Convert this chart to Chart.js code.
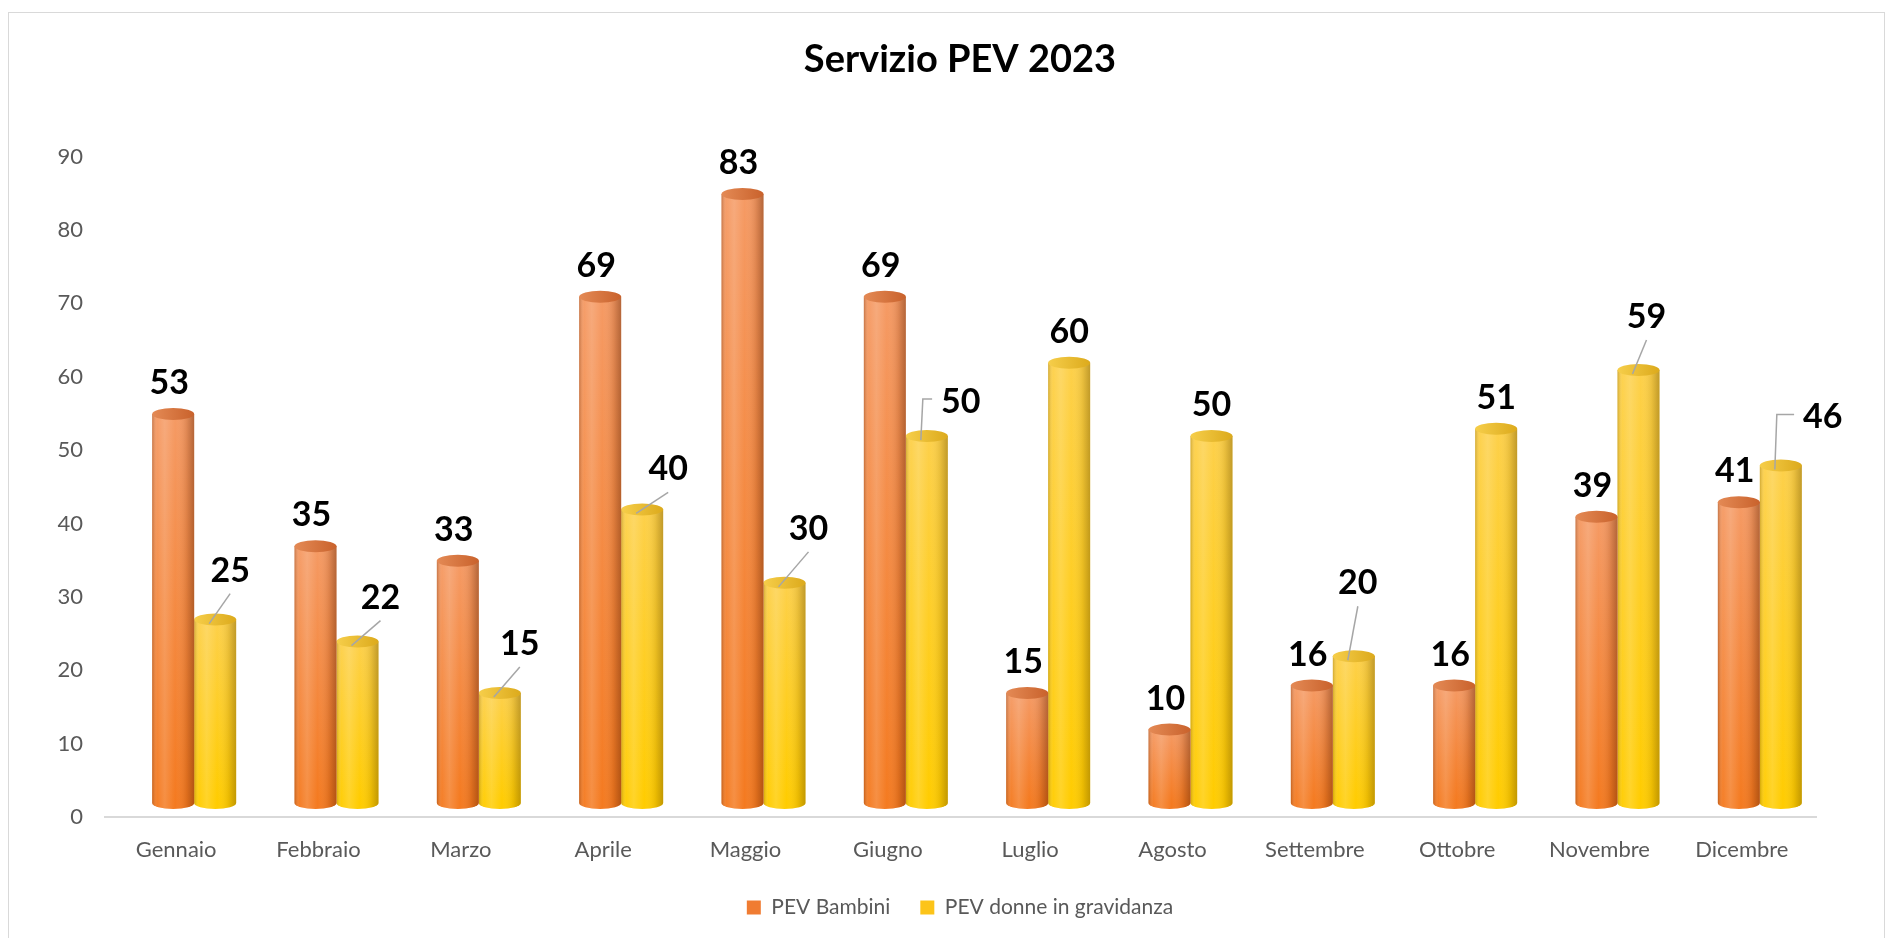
<!DOCTYPE html>
<html lang="it">
<head>
<meta charset="utf-8">
<title>Servizio PEV 2023</title>
<script src="https://cdn.jsdelivr.net/npm/chart.js@4.4.1/dist/chart.umd.min.js"></script>
<style>
    html, body { margin: 0; padding: 0; background: #fff; }
    #wrap { position: relative; width: 1894px; height: 938px; }
</style>
</head>
<body>
<div id="wrap"><canvas id="pev"></canvas></div>
<script>
    // ---- data ----
    const months = ['Gennaio', 'Febbraio', 'Marzo', 'Aprile', 'Maggio', 'Giugno',
                    'Luglio', 'Agosto', 'Settembre', 'Ottobre', 'Novembre', 'Dicembre'];
    const pevBambini = [53, 35, 33, 69, 83, 69, 15, 10, 16, 16, 39, 41];
    const pevDonne = [25, 22, 15, 40, 30, 50, 60, 50, 20, 51, 59, 46];
    const seriesNames = ['PEV Bambini', 'PEV donne in gravidanza'];
    const yMin = 0, yMax = 90, yStep = 10;

    // label placement for the yellow series: [dx, dy, leader type]
    const donneLabelPos = [
        [15, -49, 'line'], [23, -44, 'line'], [20, -49, 'line'], [26, -40, 'line'],
        [24, -54, 'line'], [34, -34, 'elbow'], [0, -31, ''], [0, -31, ''],
        [4, -73, 'line'], [0, -31, ''], [8, -53, 'line'], [42, -48, 'elbow']
    ];

    const FONT = 'Lato, "Open Sans", sans-serif';
    const palettes = [
        { top: '#f59a64', bottom: '#f47a20', cap: ['#e48a55', '#c9622c'], edge: '90,30,0' },
        { top: '#fdd04a', bottom: '#ffcc00', cap: ['#f6ce4a', '#dcaa1c'], edge: '110,80,0' }
    ];

    function drawCylinder(ctx, bar, pal) {
        const rx = bar.width / 2, ry = 6;
        const x0 = bar.x - rx, x1 = bar.x + rx;
        const top = bar.y, bot = bar.base;

        const body = new Path2D();
        body.moveTo(x0, top);
        body.lineTo(x0, bot);
        body.ellipse(bar.x, bot, rx, ry, 0, Math.PI, 0, true);
        body.lineTo(x1, top);
        body.closePath();

        const vg = ctx.createLinearGradient(0, top, 0, bot);
        vg.addColorStop(0, pal.top);
        vg.addColorStop(1, pal.bottom);
        ctx.fillStyle = vg;
        ctx.fill(body);

        const hg = ctx.createLinearGradient(x0, 0, x1, 0);
        hg.addColorStop(0, 'rgba(' + pal.edge + ',0.30)');
        hg.addColorStop(0.12, 'rgba(255,255,255,0.04)');
        hg.addColorStop(0.3, 'rgba(255,255,255,0.16)');
        hg.addColorStop(0.55, 'rgba(255,255,255,0)');
        hg.addColorStop(0.82, 'rgba(' + pal.edge + ',0.14)');
        hg.addColorStop(1, 'rgba(' + pal.edge + ',0.42)');
        ctx.fillStyle = hg;
        ctx.fill(body);

        const cg = ctx.createLinearGradient(x0, 0, x1, 0);
        cg.addColorStop(0, pal.cap[0]);
        cg.addColorStop(1, pal.cap[1]);
        ctx.beginPath();
        ctx.ellipse(bar.x, top, rx, ry, 0, 0, Math.PI * 2);
        ctx.fillStyle = cg;
        ctx.fill();
    }

    const framePlugin = {
        id: 'frame',
        beforeDraw(chart) {
            const ctx = chart.ctx;
            ctx.save();
            ctx.fillStyle = '#fff';
            ctx.fillRect(0, 0, chart.width, chart.height);
            ctx.strokeStyle = '#d9d9d9';
            ctx.lineWidth = 1;
            ctx.strokeRect(8.5, 12.5, 1876, 940);
            ctx.restore();
        },
        beforeDatasetsDraw(chart) {
            // floor line
            const a = chart.chartArea, ctx = chart.ctx;
            ctx.save();
            ctx.strokeStyle = '#d9d9d9';
            ctx.lineWidth = 2;
            ctx.beginPath();
            ctx.moveTo(a.left - 19, a.bottom + 14);
            ctx.lineTo(a.right - 14, a.bottom + 14);
            ctx.stroke();
            ctx.restore();
        }
    };

    const cylinderPlugin = {
        id: 'cylinders',
        beforeDatasetDraw(chart, args) {
            const ctx = chart.ctx;
            ctx.save();
            args.meta.data.forEach(bar => drawCylinder(ctx, bar, palettes[args.index]));
            ctx.restore();
            return false;
        }
    };

    const labelPlugin = {
        id: 'valueLabels',
        afterDatasetsDraw(chart) {
            const ctx = chart.ctx;
            ctx.save();
            ctx.font = 'bold 34px ' + FONT;
            ctx.fillStyle = '#000';
            ctx.textAlign = 'center';
            ctx.textBaseline = 'middle';
            ctx.strokeStyle = '#a6a6a6';
            ctx.lineWidth = 1.5;

            chart.getDatasetMeta(0).data.forEach((bar, i) => {
                ctx.fillText(String(pevBambini[i]), bar.x - 4, bar.y - 31);
            });

            chart.getDatasetMeta(1).data.forEach((bar, i) => {
                const [dx, dy, leader] = donneLabelPos[i];
                const lx = bar.x + dx, ly = bar.y + dy;
                const text = String(pevDonne[i]);
                if (leader === 'line') {
                    ctx.beginPath();
                    ctx.moveTo(bar.x - 6, bar.y + 4);
                    ctx.lineTo(lx, ly + 23);
                    ctx.stroke();
                } else if (leader === 'elbow') {
                    const w = ctx.measureText(text).width;
                    ctx.beginPath();
                    ctx.moveTo(bar.x - 6, bar.y + 4);
                    ctx.lineTo(bar.x - 4, ly - 3);
                    ctx.lineTo(lx - w / 2 - 9, ly - 3);
                    ctx.stroke();
                }
                ctx.fillText(text, lx, ly);
            });
            ctx.restore();
        }
    };

    new Chart(document.getElementById('pev'), {
        type: 'bar',
        data: {
            labels: months,
            datasets: [
                { label: seriesNames[0], data: pevBambini, backgroundColor: '#f07c32', borderWidth: 0 },
                { label: seriesNames[1], data: pevDonne, backgroundColor: '#fcc419', borderWidth: 0 }
            ]
        },
        options: {
            responsive: true,
            maintainAspectRatio: false,
            animation: false,
            datasets: { bar: { categoryPercentage: 0.59, barPercentage: 1.0 } },
            layout: { padding: { top: 0, left: 50, right: 24, bottom: 10 } },
            plugins: {
                title: {
                    display: true,
                    text: 'Servizio PEV 2023',
                    color: '#000',
                    font: { family: FONT, size: 38, weight: 'bold' },
                    padding: { top: 37, bottom: 60 }
                },
                legend: {
                    position: 'bottom',
                    labels: {
                        boxWidth: 14, boxHeight: 14, padding: 30,
                        color: '#595959',
                        font: { family: FONT, size: 21 }
                    }
                },
                tooltip: { enabled: false }
            },
            scales: {
                x: {
                    grid: { display: false },
                    border: { display: false },
                    ticks: {
                        color: '#595959',
                        font: { family: FONT, size: 22 },
                        padding: 26,
                        labelOffset: -18,
                        maxRotation: 0
                    },
                    afterFit: s => { s.height = 64; }
                },
                y: {
                    min: yMin, max: yMax,
                    grid: { display: false, drawTicks: false },
                    border: { display: false },
                    ticks: {
                        stepSize: yStep,
                        color: '#595959',
                        font: { family: FONT, size: 22 },
                        padding: 40,
                        labelOffset: 14
                    },
                    afterFit: s => { s.width = 73; }
                },
                // empty spacer on the right so the plot ends where the reference does
                spacer: {
                    type: 'linear',
                    position: 'right',
                    grid: { display: false },
                    border: { display: false },
                    ticks: { display: false },
                    afterFit: s => { s.width = 39; }
                }
            }
        },
        plugins: [framePlugin, cylinderPlugin, labelPlugin]
    });
</script>
</body>
</html>
